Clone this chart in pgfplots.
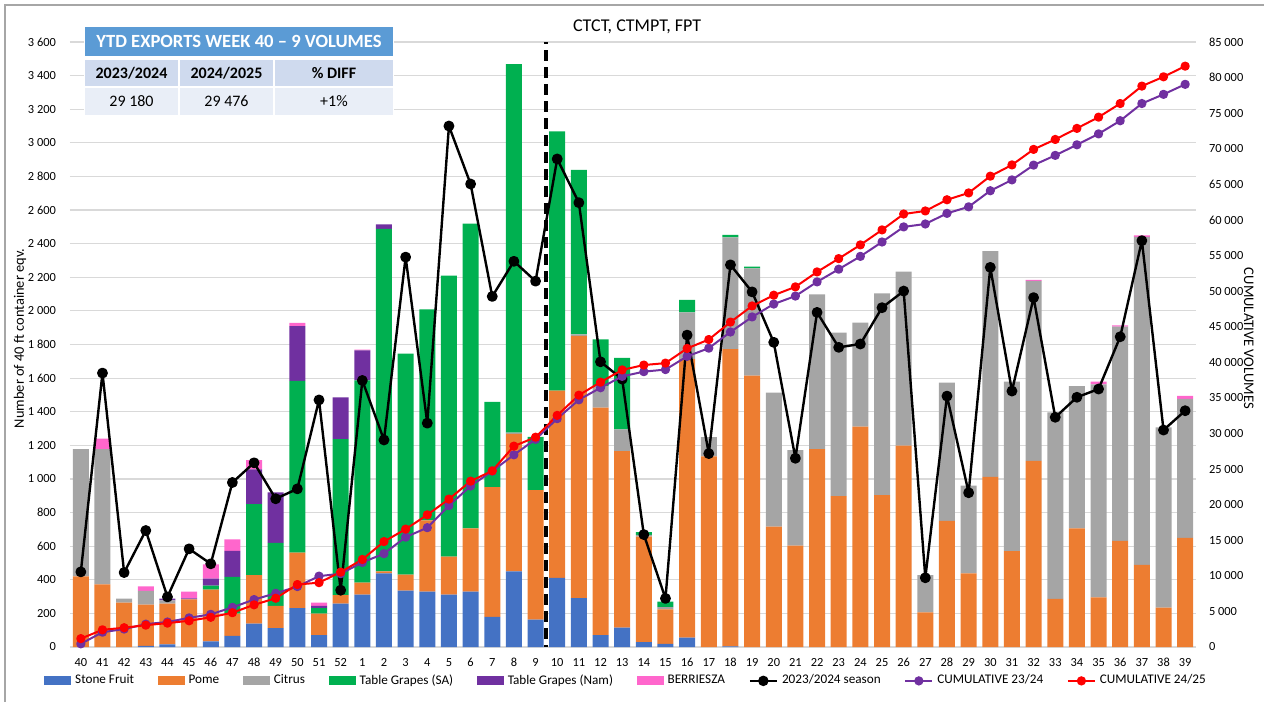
\documentclass[border=0pt]{standalone}
\usepackage{pgfplots}
\usepackage{pgfplotstable}
\usepackage{fontspec}
\setmainfont{Carlito}
\pgfplotsset{compat=1.18}
\definecolor{cBlue}{HTML}{4472C4}
\definecolor{cOrange}{HTML}{ED7D31}
\definecolor{cGray}{HTML}{A5A5A5}
\definecolor{cGreen}{HTML}{00B050}
\definecolor{cPurple}{HTML}{7030A0}
\definecolor{cPink}{HTML}{FF66CC}
\definecolor{cRed}{HTML}{FF0000}
\definecolor{cGrid}{HTML}{D9D9D9}
\definecolor{cHead}{HTML}{5B9BD5}
\definecolor{cRowA}{HTML}{CFDAEE}
\definecolor{cRowB}{HTML}{E9EEF7}
\definecolor{cFrame}{HTML}{A6A6A6}

\pgfplotstableread{
i week blue orange gray green purple pink season cumA cumB
0 40 0 421 757 0 0 0 447 447 1178
1 41 0 373 805 0 0 62 1630 2077 2418
2 42 0 264 24 0 0 0 443 2520 2706
3 43 6 246 82 0 0 27 693 3213 3067
4 44 16 242 20 0 10 0 298 3511 3355
5 45 0 284 0 0 6 40 584 4095 3685
6 46 34 308 0 23 42 84 495 4590 4176
7 47 66 133 0 218 155 68 979 5569 4816
8 48 139 288 0 423 207 55 1096 6665 5928
9 49 113 131 0 376 300 0 882 7547 6848
10 50 232 330 0 1021 327 18 941 8488 8776
11 51 70 129 0 33 12 20 1470 9958 9040
12 52 258 50 0 929 249 0 338 10296 10526
13 1 311 72 0 1203 179 5 1586 11882 12296
14 2 438 12 0 2038 27 0 1232 13114 14811
15 3 335 96 0 1315 0 0 2320 15434 16557
16 4 330 423 0 1256 0 0 1332 16766 18566
17 5 311 227 0 1672 0 0 3100 19866 20776
18 6 330 376 0 1814 0 0 2755 22621 23296
19 7 179 773 0 507 0 0 2086 24707 24755
20 8 450 818 7 2193 0 0 2295 27002 28223
21 9 163 770 0 317 0 0 2177 29179 29473
22 10 412 1113 0 1543 0 0 2904 32083 32541
23 11 291 1560 9 979 0 0 2644 34727 35380
24 12 71 1354 127 278 0 0 1697 36424 37210
25 13 115 1050 130 425 0 0 1594 38018 38930
26 14 29 628 10 17 0 0 669 38687 39614
27 15 19 205 14 32 0 0 289 38976 39884
28 16 56 1657 278 74 0 0 1856 40832 41949
29 17 0 1134 115 0 0 0 1151 41983 43198
30 18 4 1768 665 15 0 0 2274 44257 45650
31 19 0 1615 638 10 0 0 2113 46370 47913
32 20 0 716 797 0 0 0 1813 48183 49426
33 21 0 603 569 0 0 0 1123 49306 50598
34 22 0 1178 920 0 0 0 1991 51297 52696
35 23 0 898 972 0 0 0 1783 53080 54566
36 24 0 1311 619 0 0 0 1803 54883 56496
37 25 0 904 1200 0 0 0 2019 56902 58600
38 26 0 1198 1035 0 0 0 2118 59020 60833
39 27 0 206 222 0 0 0 412 59432 61261
40 28 0 750 823 0 0 0 1493 60925 62834
41 29 0 438 522 0 0 0 918 61843 63794
42 30 0 1013 1343 0 0 0 2259 64102 66150
43 31 0 571 1008 0 0 0 1523 65625 67729
44 32 0 1107 1072 0 0 5 2079 67704 69913
45 33 0 286 1110 0 0 0 1367 69071 71309
46 34 0 706 847 0 0 0 1486 70557 72862
47 35 0 296 1267 0 0 16 1535 72092 74441
48 36 0 631 1275 0 0 8 1846 73938 76355
49 37 0 488 1953 0 0 9 2418 76356 78805
50 38 0 234 1073 0 0 0 1291 77647 80112
51 39 0 650 826 0 0 18 1406 79053 81606
}\data

\pgfplotsset{
  base/.style={
    at={(35pt,27.5pt)}, anchor=south west, scale only axis,
    width=563pt, height=302.5pt,
    xmin=-0.5, xmax=51.5, enlargelimits=false,
    axis line style={draw=none}, major tick length=0pt,
    /pgf/number format/assume math mode=true,
    /pgf/number format/1000 sep={\ },
  },
  barleg/.style={legend image code/.code={\fill[##1] (0pt,-2.2pt) rectangle (13.5pt,2.2pt);}},
  lineleg/.style={legend image code/.code={\draw[mark repeat=2,mark phase=2,##1,sharp plot] plot coordinates {(0pt,0pt) (6.75pt,0pt) (13.5pt,0pt)};}},
}
\newcommand{\tickfont}{\fontsize{6.2}{7}\selectfont}

\begin{document}
\begin{tikzpicture}
\path[use as bounding box] (0pt,0pt) rectangle (632pt,351pt);
\draw[cFrame, line width=0.75pt] (2.5pt,0pt) -- (2.5pt,348.5pt) -- (632pt,348.5pt);

\begin{axis}[base,
  ybar stacked, bar width=8pt,
  ymin=0, ymax=3600, ytick={0,200,...,3600},
  ymajorgrids, grid style={cGrid, line width=0.6pt},
  xtick={0,...,51}, xticklabels from table={\data}{week},
  xticklabel style={font=\tickfont, yshift=-2pt},
  yticklabel style={font=\tickfont, xshift=-3.5pt},
  ylabel={Number of 40 ft container eqv.},
  every axis y label/.style={at={(axis description cs:-0.0444,0.51)}, rotate=90, anchor=center, font=\fontsize{7.2}{8.5}\selectfont},
  title={CTCT, CTMPT, FPT},
  every axis title/.style={at={(axis description cs:0.5036,1.0248)}, anchor=center, font=\fontsize{9}{11}\selectfont},
  legend columns=9,
  legend cell align=left,
  legend style={draw=none, fill=none, at={(axis description cs:0.4947,-0.056)}, anchor=center,
    font=\fontsize{6.6}{8}\selectfont, inner sep=0pt,
    /tikz/every even column/.append style={column sep=9.8pt}},
]
\addplot[fill=cBlue, draw=none, barleg] table[x=i,y=blue]{\data};
\addlegendentry{Stone Fruit}
\addplot[fill=cOrange, draw=none, barleg] table[x=i,y=orange]{\data};
\addlegendentry{Pome}
\addplot[fill=cGray, draw=none, barleg] table[x=i,y=gray]{\data};
\addlegendentry{Citrus}
\addplot[fill=cGreen, draw=none, barleg] table[x=i,y=green]{\data};
\addlegendentry{Table Grapes (SA)}
\addplot[fill=cPurple, draw=none, barleg] table[x=i,y=purple]{\data};
\addlegendentry{Table Grapes (Nam)}
\addplot[fill=cPink, draw=none, barleg] table[x=i,y=pink]{\data};
\addlegendentry{BERRIESZA}
\addlegendimage{black, line width=1.2pt, mark=*, mark size=2pt, mark options={fill=black}, lineleg}
\addlegendentry{2023/2024 season}
\addlegendimage{cPurple, line width=1pt, mark=*, mark size=1.8pt, mark options={fill=cPurple}, lineleg}
\addlegendentry{CUMULATIVE 23/24}
\addlegendimage{cRed, line width=1pt, mark=*, mark size=1.8pt, mark options={fill=cRed}, lineleg}
\addlegendentry{CUMULATIVE 24/25}
\end{axis}

\begin{axis}[base, ymin=0, ymax=3600, hide axis]
\addplot[black, line width=2pt, dash pattern=on 5.5pt off 3pt, dash phase=-4pt] coordinates {(21.5,0) (21.5,3600)};
\addplot[black, line width=1.2pt, line join=round, mark=*, mark size=2.1pt, mark options={fill=black}] table[x=i,y=season]{\data};
\end{axis}

\begin{axis}[base, ymin=0, ymax=85000,
  axis y line*=right, axis x line=none, xtick=\empty,
  ytick={0,5000,...,85000}, scaled y ticks=false,
  yticklabel style={font=\tickfont, xshift=3pt},
  ylabel={CUMULATIVE VOLUMES},
  every axis y label/.style={at={(axis description cs:1.047,0.51)}, rotate=-90, anchor=center, font=\fontsize{7.3}{8.5}\selectfont},
]
\addplot[cPurple, line width=1pt, line join=round, mark=*, mark size=1.8pt, mark options={fill=cPurple}] table[x=i,y=cumA]{\data};
\addplot[cRed, line width=1pt, line join=round, mark=*, mark size=1.8pt, mark options={fill=cRed}] table[x=i,y=cumB]{\data};
\end{axis}

% summary table
\fill[white] (42pt,293pt) rectangle (197pt,338pt);
\fill[cHead] (42.5pt,323pt) rectangle (196.5pt,337.5pt);
\node[text=white, font=\bfseries\fontsize{9.3}{11}\selectfont] at (119.5pt,330.25pt) {YTD EXPORTS WEEK 40 – 9 VOLUMES};
\fill[cRowA] (42.5pt,308pt) rectangle (89pt,321pt);
\fill[cRowA] (90pt,308pt) rectangle (136.5pt,321pt);
\fill[cRowA] (137.5pt,308pt) rectangle (196.5pt,321pt);
\fill[cRowB] (42.5pt,293.5pt) rectangle (89pt,307pt);
\fill[cRowB] (90pt,293.5pt) rectangle (136.5pt,307pt);
\fill[cRowB] (137.5pt,293.5pt) rectangle (196.5pt,307pt);
\node[font=\bfseries\fontsize{8}{10}\selectfont] at (65.75pt,314.5pt) {2023/2024};
\node[font=\bfseries\fontsize{8}{10}\selectfont] at (113.25pt,314.5pt) {2024/2025};
\node[font=\bfseries\fontsize{8}{10}\selectfont] at (167pt,314.5pt) {\% DIFF};
\node[font=\fontsize{8}{10}\selectfont] at (65.75pt,300.25pt) {29 180};
\node[font=\fontsize{8}{10}\selectfont] at (113.25pt,300.25pt) {29 476};
\node[font=\fontsize{8}{10}\selectfont] at (167pt,300.25pt) {+1\%};
\end{tikzpicture}
\end{document}
